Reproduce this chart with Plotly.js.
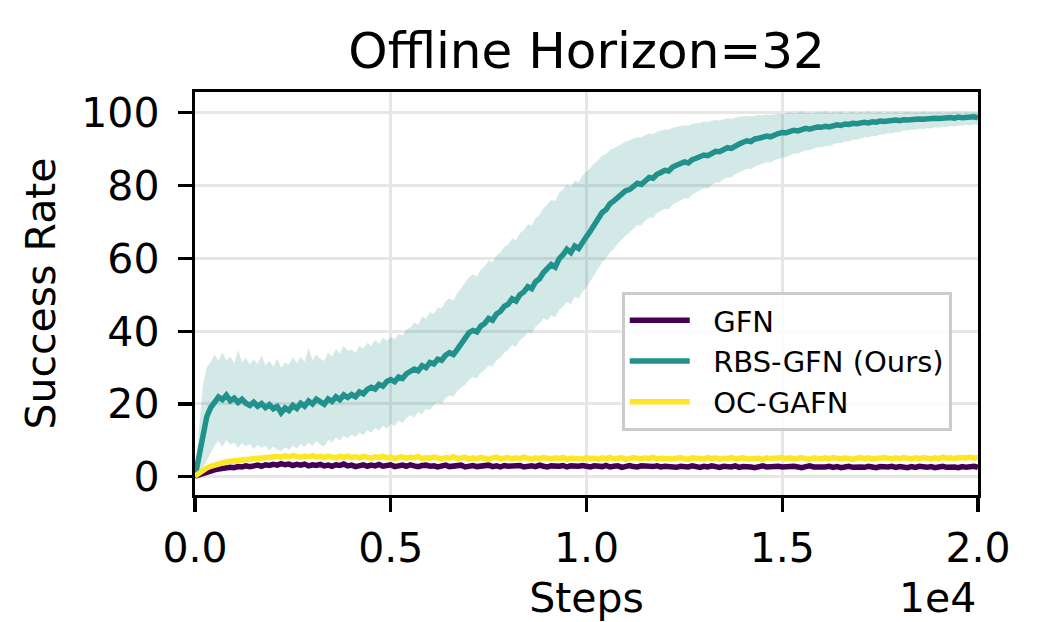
<!DOCTYPE html>
<html>
<head>
<meta charset="utf-8">
<script src="https://cdn.plot.ly/plotly-3.0.1.min.js"></script>
<style>html,body{margin:0;padding:0;background:#fff;}#chart{width:1041px;height:622px;}</style>
</head>
<body>
<div id="chart"></div>
<script>
// Steps: one sample every 100 steps, 0 .. 20000
const STEP_SIZE = 100;
const steps = Array.from({length: 201}, (_, i) => i * STEP_SIZE);

const seriesNames = ["GFN", "RBS-GFN (Ours)", "OC-GAFN"];

const gfnMean = [
0.2,0.6,1.0,1.3,1.6,1.9,2.1,2.3,2.2,2.6,2.5,2.8,2.7,3.0,2.8,3.1,3.2,2.9,3.3,3.1,3.4,3.2,3.6,3.3,3.5,3.1,3.4,3.2,3.5,3.0,3.3,
3.1,3.4,3.0,3.2,2.9,3.3,3.1,3.5,3.0,3.2,2.8,3.1,3.3,2.9,3.2,3.0,3.4,2.9,3.1,3.3,2.8,3.0,3.2,2.9,3.3,3.0,2.8,3.1,3.2,2.9,
3.0,2.7,3.1,3.2,2.8,3.0,2.9,3.2,2.7,3.0,3.1,2.8,3.0,2.9,3.2,2.8,3.0,2.7,3.1,2.9,3.0,2.8,3.1,2.7,2.9,3.0,2.8,3.2,2.9,2.7,
3.0,2.8,2.9,3.1,2.7,3.0,2.8,2.9,3.1,2.8,2.7,3.0,2.9,2.8,3.1,2.7,2.9,3.0,2.6,2.9,3.1,2.8,2.7,3.0,2.9,2.6,2.8,3.0,2.7,2.9,
2.8,3.0,2.6,2.9,2.8,2.7,3.0,2.8,2.6,2.9,2.7,3.0,2.8,2.6,2.9,2.8,2.7,3.0,2.6,2.8,2.9,2.7,2.5,2.8,3.0,2.7,2.8,2.6,2.9,2.7,
2.8,2.6,2.9,2.7,2.5,2.8,3.0,2.7,2.6,2.8,2.7,2.9,2.6,2.8,2.5,2.7,2.9,2.6,2.8,2.7,2.6,2.9,2.7,2.5,2.8,2.6,2.7,2.9,2.6,2.8,
2.7,2.5,2.8,2.6,2.9,2.7,2.6,2.8,2.5,2.7,2.9,2.6,2.8,2.7,2.5,2.8,2.6,2.7,2.9,2.6
];

const rbsMean = [
0,5.5,12.0,16.5,19.0,20.8,21.9,21.2,22.4,20.9,21.6,20.4,21.3,20.2,19.6,20.5,19.4,20.1,19.0,19.8,
18.7,19.3,17.6,18.9,18.2,19.6,18.8,20.2,19.4,20.8,20.0,21.3,20.5,19.9,21.4,20.7,22.0,21.2,22.5,21.8,
22.6,22.0,23.3,22.8,24.0,24.6,24.1,25.4,24.9,26.2,26.7,26.1,27.4,27.0,28.3,28.9,29.6,29.1,30.5,30.0,
31.4,31.0,32.3,32.0,33.4,34.1,33.6,35.0,36.4,37.9,39.6,40.2,39.8,41.4,42.1,43.5,43.0,44.7,45.4,46.8,
47.4,48.9,48.3,50.0,50.8,52.2,51.7,53.6,54.4,56.1,57.0,58.3,57.6,59.9,61.0,62.5,61.6,63.4,62.7,64.6,
66.0,67.5,69.4,70.8,72.6,73.4,75.0,75.8,76.9,77.7,78.6,78.9,79.8,80.6,80.3,81.5,82.2,82.0,83.1,83.6,
84.2,84.0,85.1,85.6,85.9,86.5,86.2,87.1,87.5,87.8,88.4,88.2,89.0,89.4,89.3,90.0,90.4,90.2,91.0,91.4,
91.9,92.3,92.1,92.8,93.0,93.2,93.6,93.4,94.0,94.3,94.6,94.5,94.9,95.2,95.0,95.4,95.7,95.5,95.9,96.1,
96.0,96.3,96.1,96.5,96.7,96.5,96.9,96.8,97.1,97.0,97.2,97.4,97.2,97.5,97.4,97.7,97.6,97.8,97.7,98.0,
97.8,98.1,98.0,98.2,98.1,98.3,98.2,98.4,98.3,98.5,98.4,98.6,98.5,98.7,98.5,98.8,98.6,98.8,98.7,98.9,
98.6
];

const rbsUpper = [
0.5,14,25,30,31.5,33.5,31.8,34.2,32.0,33.0,31.2,34.8,31.5,32.6,30.9,32.3,31.0,33.4,30.6,31.8,
30.2,32.5,30.0,31.4,30.8,32.9,31.2,33.0,31.6,35.4,32.0,33.6,32.4,31.8,34.2,33.0,35.1,33.8,36.0,34.6,
35.0,34.0,36.0,35.2,36.8,36.0,37.6,36.5,38.2,37.4,38.4,37.8,39.2,38.8,40.4,41.0,42.4,41.8,44.0,43.4,
45.2,44.7,46.6,46.2,48.2,49.0,48.5,50.4,51.8,53.2,54.8,55.6,55.0,56.9,57.8,59.4,58.9,60.8,61.6,63.2,
63.8,65.5,65.0,66.9,67.8,69.4,69.0,71.1,72.0,73.8,74.8,76.2,75.7,78.0,78.9,80.3,79.6,81.4,80.9,82.8,
83.8,84.8,86.1,87.0,88.2,88.7,89.8,90.3,91.0,91.4,92.1,92.4,93.0,93.3,93.2,93.9,94.3,94.1,94.8,95.0,
95.4,95.3,95.9,96.1,96.3,96.6,96.4,96.9,97.1,97.2,97.6,97.4,97.8,98.0,97.9,98.3,98.5,98.3,98.7,98.8,
99.0,99.2,99.0,99.3,99.4,99.3,99.5,99.4,99.6,99.7,99.6,99.9,100.2,99.8,100.0,100.4,99.9,100.1,99.8,100.3,
100.0,100.5,99.9,100.2,100.0,100.4,99.8,100.1,100.3,99.9,100.2,100.0,100.5,99.9,100.1,100.3,99.8,100.2,100.0,100.4,
99.9,100.1,100.3,100.0,100.2,99.9,100.4,100.0,100.2,100.1,100.3,99.9,100.2,100.0,100.4,100.1,99.9,100.3,100.0,100.2,
100.1
];

const rbsLower = [
0,0.8,2.5,4.5,6.8,8.6,9.8,8.2,10.1,8.9,9.5,8.0,9.2,8.4,9.0,7.6,8.8,7.9,8.5,7.2,
8.3,7.5,7.0,8.1,7.4,8.6,7.8,9.0,8.2,9.4,8.5,9.8,8.9,8.3,10.2,9.4,10.8,10.0,11.3,10.6,
11.6,10.9,12.2,11.5,12.8,12.1,13.4,12.7,14.0,13.3,14.6,14.0,15.4,14.8,16.2,16.9,16.3,17.8,17.2,18.7,
18.3,19.8,20.5,20.0,21.6,22.4,22.0,23.6,24.5,25.3,26.7,27.4,27.0,28.6,29.4,30.6,30.2,32.0,32.7,34.1,
34.8,36.2,35.7,37.6,38.4,39.8,39.3,41.2,42.0,43.6,43.0,44.3,43.8,45.8,46.7,48.1,47.4,49.5,49.0,50.8,
52.0,53.7,55.4,57.1,58.9,60.0,61.7,62.6,64.1,65.2,66.3,67.1,68.3,69.2,69.0,70.4,71.2,71.1,72.4,73.0,
73.6,73.5,74.8,75.3,75.8,76.5,76.3,77.5,78.1,78.6,79.3,79.2,80.2,80.8,80.9,81.7,82.3,82.2,83.1,83.6,
84.1,84.6,84.5,85.3,85.6,85.9,86.4,86.3,87.0,87.3,87.7,87.8,88.4,88.8,88.8,89.3,89.7,89.7,90.2,90.5,
90.5,90.9,90.9,91.4,91.7,91.6,92.1,92.1,92.6,92.6,93.0,93.3,93.2,93.6,93.6,94.0,94.0,94.4,94.3,94.7,
94.6,95.2,95.1,95.4,95.3,95.6,95.5,95.8,95.7,96.0,95.9,96.2,96.0,96.4,96.2,96.5,96.4,96.7,96.5,96.8,
96.6
];

const ocMean = [
0.2,1.0,1.8,2.4,2.9,3.3,3.6,3.9,4.1,4.3,4.4,4.6,4.8,4.7,5.0,5.1,4.9,5.3,5.2,5.5,5.3,5.6,5.4,5.8,5.5,5.9,5.6,5.4,5.7,5.5,5.8,
5.4,5.6,5.3,5.7,5.5,5.2,5.6,5.4,5.7,5.3,5.5,5.2,5.6,5.4,5.1,5.5,5.3,5.6,5.2,5.4,5.0,5.3,5.5,5.1,5.4,5.2,5.6,5.0,5.3,5.1,
5.4,5.2,4.9,5.3,5.1,5.5,5.0,5.2,5.4,4.9,5.2,5.0,5.3,5.1,4.8,5.2,5.4,5.0,5.1,5.3,4.9,5.2,5.0,5.4,5.1,4.8,5.2,5.0,5.3,5.1,
4.9,5.2,5.0,5.3,4.8,5.1,5.0,5.2,4.9,5.3,5.0,5.1,4.8,5.2,5.0,5.3,4.9,5.1,5.2,4.8,5.0,5.3,5.1,4.9,5.2,5.0,5.4,4.9,5.1,5.0,
5.2,4.9,5.1,5.3,5.0,4.8,5.2,5.0,5.1,4.9,5.3,5.0,5.2,4.8,5.1,5.0,5.3,4.9,5.1,5.2,4.9,5.0,5.3,5.1,4.8,5.2,5.0,5.1,4.9,5.3,
5.0,5.2,4.9,5.1,5.3,5.0,4.8,5.2,5.1,4.9,5.2,5.0,5.3,5.1,4.9,5.2,5.0,4.8,5.1,5.3,5.0,5.2,4.9,5.1,5.0,5.3,5.1,4.9,5.2,5.0,
5.3,5.1,4.9,5.2,5.0,5.3,5.1,4.9,5.2,5.0,5.4,5.1,5.2,5.0,5.3,5.1,5.2,5.4,5.1,5.3
];

const xTickVals = [0, 5000, 10000, 15000, 20000];
const xTickText = ["0.0", "0.5", "1.0", "1.5", "2.0"];
const yTickVals = [0, 20, 40, 60, 80, 100];

const colors = {gfn: "#440154", rbs: "#21918c", oc: "#fde725"};
const FONT = "DejaVu Sans, Liberation Sans, sans-serif";
const PAD = "\u00a0\u00a0";

const traces = [
  {x: steps, y: rbsLower, mode: "lines", line: {width: 0, color: colors.rbs}, hoverinfo: "skip", showlegend: false},
  {x: steps, y: rbsUpper, mode: "lines", fill: "tonexty", fillcolor: "rgba(33,145,140,0.2)", line: {width: 0, color: colors.rbs}, hoverinfo: "skip", showlegend: false},
  {x: steps, y: gfnMean, mode: "lines", name: PAD + seriesNames[0], line: {color: colors.gfn, width: 5.5}},
  {x: steps, y: rbsMean, mode: "lines", name: PAD + seriesNames[1], line: {color: colors.rbs, width: 5.5}},
  {x: steps, y: ocMean, mode: "lines", name: PAD + seriesNames[2], line: {color: colors.oc, width: 5.5}}
];

const axisCommon = {
  showline: true, linecolor: "#000", linewidth: 3.3, mirror: true,
  ticks: "outside", ticklen: 14, tickwidth: 3.3, tickcolor: "#000",
  showgrid: true, gridcolor: "#e6e6e6", gridwidth: 3,
  zeroline: false,
  tickfont: {family: FONT, size: 41, color: "#000"}
};

const layout = {
  width: 1041, height: 622,
  margin: {l: 195, r: 63, t: 92, b: 127},
  paper_bgcolor: "#fff", plot_bgcolor: "#fff",
  font: {family: FONT, color: "#000"},
  title: {text: "Offline Horizon=32", font: {family: FONT, size: 50, color: "#000"}, x: 0.5635, xanchor: "center", y: 0.919, yanchor: "middle", yref: "container"},
  xaxis: Object.assign({}, axisCommon, {
    range: [0, 20000], tickvals: xTickVals, ticktext: xTickText,
    ticklabelstandoff: 0,
    title: {text: "Steps", font: {family: FONT, size: 41, color: "#000"}, standoff: 15}
  }),
  yaxis: Object.assign({}, axisCommon, {
    range: [-5, 105.7], tickvals: yTickVals,
    ticklabelstandoff: 10,
    title: {text: "Success Rate", font: {family: FONT, size: 41, color: "#000"}, standoff: 14}
  }),
  legend: {
    x: 0.545, y: 0.504, xanchor: "left", yanchor: "top",
    traceorder: "normal",
    bgcolor: "rgba(255,255,255,0.85)", bordercolor: "#cccccc", borderwidth: 3,
    font: {family: FONT, size: 29, color: "#000"},
    itemwidth: 60
  },
  annotations: [
    {text: "1e4", xref: "paper", yref: "paper", x: 1, y: -0.256, xanchor: "right", yanchor: "middle", showarrow: false, font: {family: FONT, size: 41, color: "#000"}}
  ],
  showlegend: true
};

Plotly.newPlot("chart", traces, layout, {displayModeBar: false, staticPlot: true});
</script>
</body>
</html>
